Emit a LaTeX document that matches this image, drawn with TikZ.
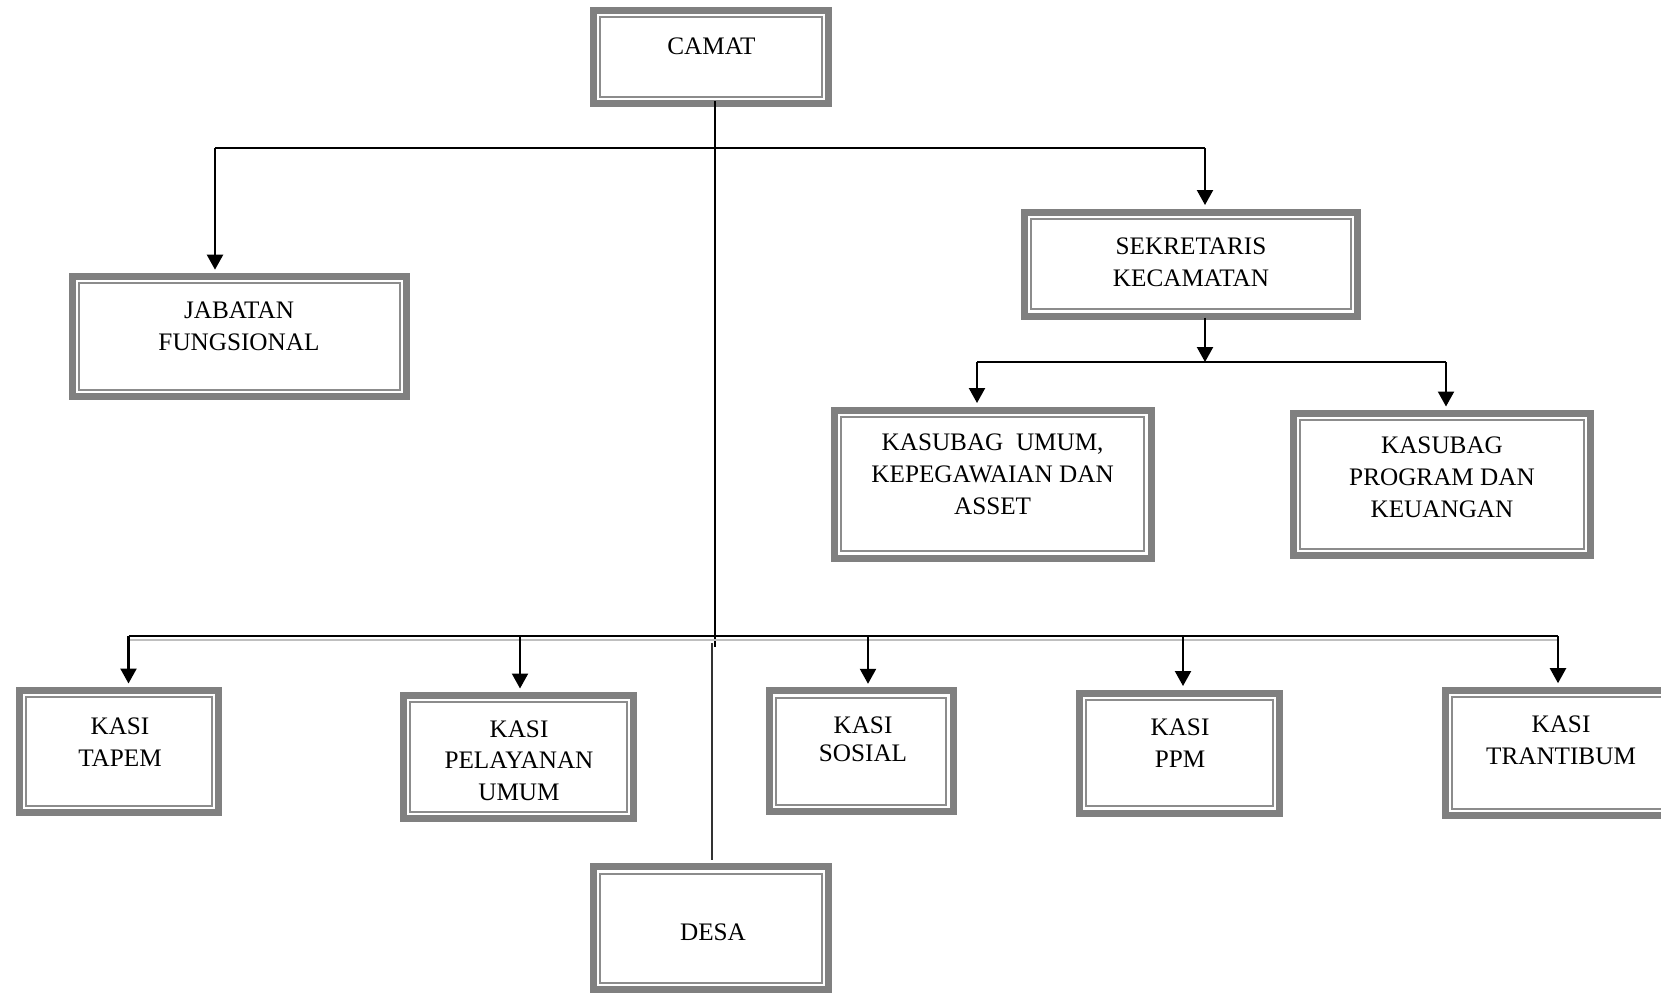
\documentclass[tikz,border=0pt]{standalone}
\usepackage{fontspec}
\setmainfont{Liberation Serif}
\usetikzlibrary{positioning,arrows.meta}

\begin{document}
\begin{tikzpicture}
    [
        x=0.5pt, y=-0.5pt,
        kotak/.style={rectangle, draw=gray, line width=3.5pt, fill=white, inner sep=0pt,
            path picture={\draw[gray!90, line width=1pt]
                ([shift={(3.35pt,3.35pt)}]path picture bounding box.south west) rectangle
                ([shift={(-3.35pt,-3.35pt)}]path picture bounding box.north east);}},
        teks/.style={align=center, font=\fontsize{12.6}{15.9}\selectfont, inner sep=0pt},
        garis/.style={line width=1.1pt},
        panah/.style={garis, -{Triangle[length=7.5pt,width=8pt]}, shorten >=1.75pt},
    ]
    \useasboundingbox (0,0) rectangle (1661,993);
    \clip (0,0) rectangle (1661,993);

    % camat
    \node[kotak, minimum width=117.5pt, minimum height=46.5pt] (camat) at (711,57) {};
    \node[teks] (tcamat) at (711.5,46.7) {CAMAT};
    % jabatan fungsional
    \node[kotak, minimum width=167pt, minimum height=60pt] (jabatan) at (239.5,336.7) {};
    \node[teks] (tjabatan) at (239,326) {JABATAN\\FUNGSIONAL};
    % sekretariat
    \node[kotak, minimum width=166.5pt, minimum height=52pt] (sekcam) at (1191,264) {};
    \node[teks] (tsekcam) at (1191,262) {SEKRETARIS\\KECAMATAN};
    \node[kotak, minimum width=158.5pt, minimum height=74pt] (umum) at (992.5,484) {};
    \node[teks] (tumum) at (992.6,474) {KASUBAG\ \ UMUM,\\KEPEGAWAIAN DAN\\ASSET};
    \node[kotak, minimum width=148.5pt, minimum height=71pt] (program) at (1442,484.5) {};
    \node[teks] (tprogram) at (1442,477) {KASUBAG\\PROGRAM DAN\\KEUANGAN};
    % seksi
    \node[kotak, minimum width=99.5pt, minimum height=61pt] (tapem) at (119,751.5) {};
    \node[teks] (ttapem) at (120,742) {KASI\\TAPEM};
    \node[kotak, minimum width=115pt, minimum height=61.5pt] (pelayanan) at (518.5,757) {};
    \node[teks] (tpelayanan) at (519,760.6) {KASI\\PELAYANAN\\UMUM};
    \node[kotak, minimum width=91.8pt, minimum height=60.5pt] (sosial) at (861.3,751.3) {};
    \node[teks, font=\fontsize{12.6}{14}\selectfont] (tsosial) at (863,739) {KASI\\SOSIAL};
    \node[kotak, minimum width=100pt, minimum height=60pt] (ppm) at (1179.5,753) {};
    \node[teks] (tppm) at (1180,743) {KASI\\PPM};
    \node[kotak, minimum width=113pt, minimum height=62.8pt] (trantibum) at (1558,753) {};
    \node[teks] (ttrantibum) at (1561,740) {KASI\\TRANTIBUM};
    % desa
    \node[kotak, minimum width=117.5pt, minimum height=61.5pt] (desa) at (711,928.3) {};
    \node[teks] (tdesa) at (713,932.5) {DESA};

    % garis atas
    \coordinate (atas kiri) at (215,148);
    \coordinate (atas kanan) at (1205,148);
    \coordinate (camat bawah) at (715,646.7);
    \draw[garis] (atas kiri) -- (atas kanan);
    \draw[garis, shorten <=-3pt] (camat.south -| camat bawah) -- (camat bawah);
    \draw[panah] (atas kiri) -- (atas kiri |- jabatan.north);
    \draw[panah] (atas kanan) -- (atas kanan |- sekcam.north);

    % garis sekretariat
    \coordinate (sek kiri) at (977,362);
    \coordinate (sek tengah) at (1205,362);
    \coordinate (sek kanan) at (1446,362);
    \draw[panah, shorten <=-1pt, shorten >=0pt] (sek tengah |- sekcam.south) -- (sek tengah);
    \draw[garis] (sek kiri) -- (sek kanan);
    \draw[panah] (sek kiri) -- (sek kiri |- umum.north);
    \draw[panah] (sek kanan) -- (sek kanan |- program.north);

    % garis seksi
    \coordinate (bawah kiri) at (128.5,636);
    \coordinate (bawah kanan) at (1558,636);
    \draw[garis] (bawah kiri) -- (bawah kanan);
    \draw[gray!50, line width=1pt] ([yshift=-2pt]bawah kiri) -- ([yshift=-2pt]bawah kanan);
    \foreach \nama/\x in {tapem/128.5, pelayanan/520, sosial/868, ppm/1183, trantibum/1558} {
        \coordinate (p) at (\x,636);
        \draw[panah] (p) -- (p |- \nama.north);
    }

    % garis desa
    \coordinate (desa atas) at (712,643);
    \draw[line width=1.1pt, black!80, shorten >=1.75pt] (desa atas) -- (desa atas |- desa.north);
\end{tikzpicture}
\end{document}
